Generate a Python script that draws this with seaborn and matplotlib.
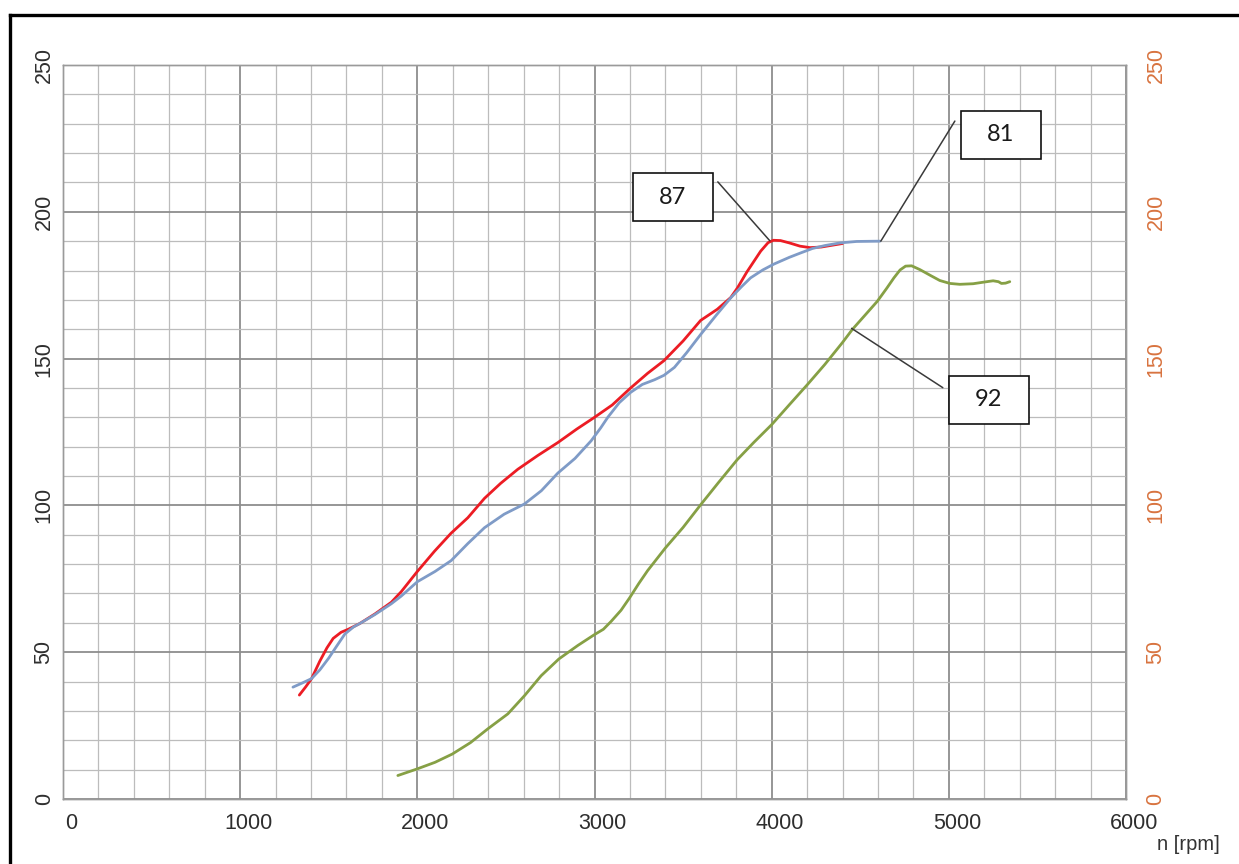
import matplotlib
matplotlib.use("Agg")
import matplotlib.pyplot as plt
import matplotlib.transforms as mtransforms
from matplotlib.lines import Line2D
from matplotlib.patches import Rectangle
from matplotlib.ticker import MultipleLocator
import pandas as pd
import seaborn as sns

# Engine speed sweeps [rpm] and measured values for the three runs
rpm_87 = [1334, 1370, 1403, 1450, 1490, 1525, 1570, 1610, 1676, 1760, 1853, 1909,
          2000, 2097, 2190, 2285, 2379, 2470, 2567, 2680, 2793, 2900, 3000, 3100,
          3204, 3300, 3392, 3500, 3599, 3693, 3769, 3806, 3860, 3938, 3980, 4010,
          4050, 4100, 4160, 4216, 4280, 4340, 4400]
val_87 = [35.4, 38.2, 41.0, 47.0, 51.5, 54.7, 56.8, 57.8, 59.8, 63.0, 67.0, 70.6,
          77.5, 84.4, 90.5, 95.8, 102.4, 107.5, 112.3, 117.0, 121.4, 126.0, 130.0, 134.2,
          140.0, 145.0, 149.3, 156.0, 163.0, 166.8, 170.8, 174.0, 179.5, 186.6, 189.5, 190.3,
          190.2, 189.4, 188.3, 187.8, 188.0, 188.6, 189.2]

rpm_81 = [1298, 1350, 1403, 1450, 1500, 1544, 1591, 1640, 1676, 1760, 1853, 1909,
          2000, 2100, 2191, 2285, 2379, 2490, 2605, 2700, 2793, 2890, 2981, 3035,
          3075, 3140, 3204, 3270, 3339, 3392, 3451, 3520, 3599, 3690, 3769, 3830,
          3881, 3950, 4013, 4100, 4164, 4230, 4300, 4385, 4480, 4611]
val_81 = [38.1, 39.5, 41.0, 44.0, 48.0, 52.0, 56.2, 58.6, 59.8, 62.8, 66.5, 69.1,
          74.0, 77.5, 81.2, 87.0, 92.4, 97.0, 100.5, 105.0, 111.0, 116.0, 122.0, 126.4,
          130.0, 135.0, 138.5, 141.2, 142.8, 144.3, 147.0, 152.0, 158.2, 165.0, 170.7, 174.5,
          177.5, 180.2, 182.2, 184.5, 186.0, 187.5, 188.5, 189.4, 189.9, 190.0]

rpm_92 = [1890, 1997, 2100, 2197, 2300, 2398, 2511, 2605, 2699, 2799, 2906, 3000,
          3050, 3094, 3150, 3198, 3250, 3300, 3400, 3500, 3599, 3700, 3806, 3900,
          4000, 4100, 4201, 4300, 4400, 4455, 4530, 4596, 4650, 4690, 4725, 4756,
          4790, 4837, 4900, 4949, 5006, 5062, 5137, 5203, 5250, 5280, 5297, 5320, 5344]
val_92 = [8.0, 10.2, 12.5, 15.3, 19.2, 23.9, 29.0, 35.2, 42.0, 47.7, 52.3, 56.0,
          57.8, 60.5, 64.3, 68.5, 73.4, 77.8, 85.5, 92.5, 100.2, 107.8, 115.6, 121.5,
          127.5, 134.3, 141.1, 148.0, 155.5, 159.9, 165.0, 169.5, 174.0, 177.5, 180.2, 181.5,
          181.6, 180.3, 178.2, 176.6, 175.6, 175.3, 175.5, 176.1, 176.5, 176.2, 175.6, 175.7, 176.2]

x_ticks = [0, 1000, 2000, 3000, 4000, 5000, 6000]
y_ticks = [0, 50, 100, 150, 200, 250]
x_label = "n [rpm]"

# Callout labels: text, point on the curve, start of the leader line, box centre
callouts = [
    ("87", (3990, 190.1), (3696, 210.2), (3442, 204.9)),
    ("81", (4616, 190.0), (5034, 230.9), (5293, 226.2)),
    ("92", (4451, 160.3), (4966, 140.1), (5226, 135.9)),
]

series = pd.concat([
    pd.DataFrame({"rpm": rpm_87, "value": val_87, "run": "87"}),
    pd.DataFrame({"rpm": rpm_81, "value": val_81, "run": "81"}),
    pd.DataFrame({"rpm": rpm_92, "value": val_92, "run": "92"}),
])
colors = {"87": "#ec1c24", "81": "#7f9bc7", "92": "#86a045"}

sns.set_theme(style="white")
plt.rcParams["font.family"] = ["Liberation Sans", "DejaVu Sans"]

W, H = 1239, 864
fig = plt.figure(figsize=(W / 100, H / 100), dpi=100)
ax = fig.add_axes([63 / W, 1 - 799 / H, (1126 - 63) / W, (799 - 65) / H])

ax.set_xlim(0, 6000)
ax.set_ylim(0, 250)
ax.xaxis.set_major_locator(MultipleLocator(1000))
ax.xaxis.set_minor_locator(MultipleLocator(200))
ax.yaxis.set_major_locator(MultipleLocator(50))
ax.yaxis.set_minor_locator(MultipleLocator(10))
ax.set_axisbelow(True)
ax.grid(which="major", color="#8d8d8d", lw=1.3)
ax.grid(which="minor", color="#bcbcbc", lw=0.9)
for sp in ax.spines.values():
    sp.set_color("#9a9a9a")
    sp.set_linewidth(1.0)

for run in ["87", "81", "92"]:
    sns.lineplot(data=series[series["run"] == run], x="rpm", y="value", ax=ax,
                 color=colors[run], lw=2.0, estimator=None, sort=False)

ax.set_xlabel("")
ax.set_ylabel("")
ax.set_xticks(x_ticks)
ax.set_xticklabels([str(t) for t in x_ticks])
ax.set_yticks(y_ticks)
ax.set_yticklabels([str(t) for t in y_ticks])
ax.tick_params(axis="x", which="both", length=0, pad=10, labelsize=15.5, labelcolor="#2e2e2e")
ax.tick_params(axis="y", which="both", length=0, pad=6, labelsize=15.5, labelcolor="#2e2e2e")
shift = mtransforms.ScaledTranslation(8 / 100, 0, fig.dpi_scale_trans)
for lbl in ax.get_xticklabels():
    lbl.set_transform(lbl.get_transform() + shift)
for lbl in ax.get_yticklabels():
    lbl.set_rotation(90)
    lbl.set_va("center")

# Secondary scale on the right
ax2 = ax.twinx()
ax2.set_ylim(0, 250)
ax2.set_yticks(y_ticks)
ax2.set_yticklabels([str(t) for t in y_ticks])
ax2.tick_params(axis="y", length=0, pad=14, labelsize=15.5, labelcolor="#d8733f")
for lbl in ax2.get_yticklabels():
    lbl.set_rotation(90)
    lbl.set_va("center")
for sp in ax2.spines.values():
    sp.set_color("#9a9a9a")
    sp.set_linewidth(1.0)
ax2.grid(False)

# Callout boxes with leader lines
box_w = 80 / (1126 - 63) * 6000
box_h = 48 / (799 - 65) * 250
for text, target, start, centre in callouts:
    ax.add_line(Line2D([start[0], target[0]], [start[1], target[1]],
                       color="#3a3a3a", lw=1.1, zorder=5))
    ax.add_patch(Rectangle((centre[0] - box_w / 2, centre[1] - box_h / 2), box_w, box_h,
                           facecolor="white", edgecolor="#111111", lw=1.2, zorder=6))
    ax.text(centre[0], centre[1], text, ha="center", va="center", fontsize=17,
            family=["Lato", "DejaVu Sans"], color="#1a1a1a", zorder=7)

fig.text(1188 / W, 1 - 844 / H, x_label, ha="center", va="center",
         fontsize=14.5, color="#333333")

# Frame around the sheet (top and left edges)
fig.add_artist(Line2D([10 / W, 1.0], [1 - 14.5 / H, 1 - 14.5 / H], color="black",
                      lw=2.4, transform=fig.transFigure, solid_capstyle="projecting"))
fig.add_artist(Line2D([10 / W, 10 / W], [0.0, 1 - 14.5 / H], color="black",
                      lw=2.4, transform=fig.transFigure, solid_capstyle="projecting"))

fig.savefig("out.png", dpi=100, facecolor="white")
